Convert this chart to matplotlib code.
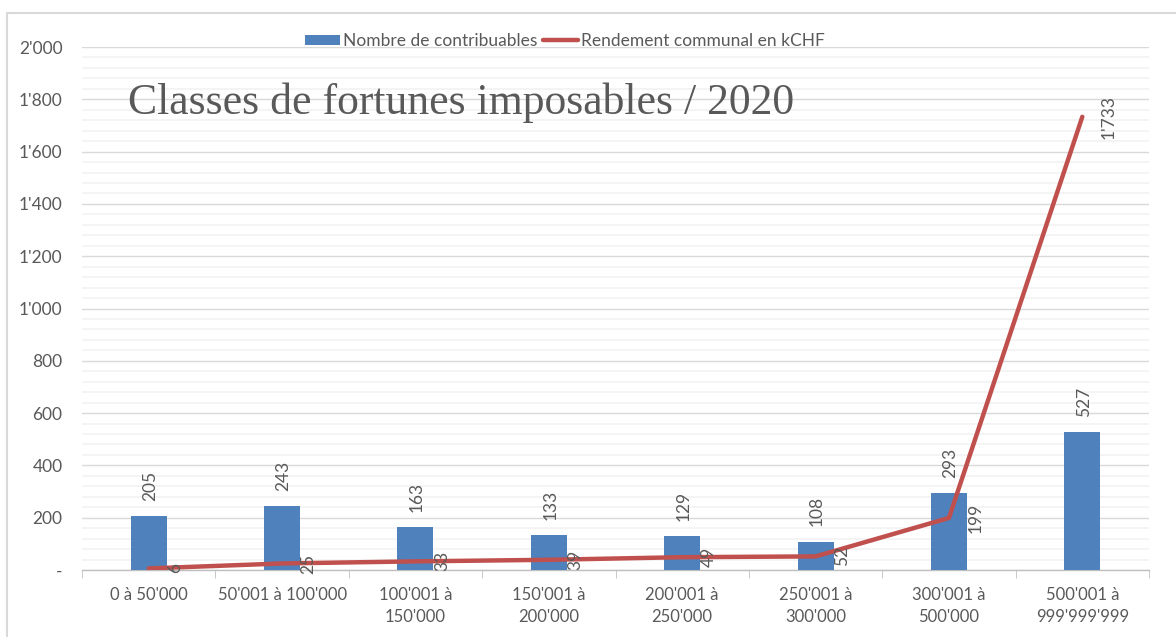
import matplotlib.pyplot as plt
from matplotlib.lines import Line2D
from matplotlib.patches import Patch
from matplotlib.ticker import MultipleLocator, FuncFormatter
import numpy as np

categories = ["0 à 50'000", "50'001 à 100'000", "100'001 à\n150'000", "150'001 à\n200'000",
              "200'001 à\n250'000", "250'001 à\n300'000", "300'001 à\n500'000", "500'001 à\n999'999'999"]
contribuables = [205, 243, 163, 133, 129, 108, 293, 527]
rendement = [6, 25, 33, 39, 49, 52, 199, 1733]
y_ticks = [0, 200, 400, 600, 800, 1000, 1200, 1400, 1600, 1800, 2000]

bar_color = '#4F81BD'
line_color = '#C0504D'
text_color = '#595959'

plt.rcParams['font.family'] = ['Lato', 'DejaVu Sans']

fig = plt.figure(figsize=(11.76, 6.37), dpi=100)
ax = fig.add_axes([82 / 1176, 1 - 570 / 637, (1149 - 82) / 1176, (570 - 47) / 637])

x = np.arange(len(categories))
ax.bar(x, contribuables, width=0.27, color=bar_color, zorder=3)
ax.plot(x, rendement, color=line_color, linewidth=3.2, solid_capstyle='round', zorder=4)


def fmt(v):
    return f"{int(v):,}".replace(',', "'")


for xi, v in zip(x, contribuables):
    ax.annotate(fmt(v), (xi, v), xytext=(1, 11), textcoords='offset points', rotation=90,
                ha='center', va='bottom', fontsize=12.5, color=text_color, zorder=5)
for xi, v in zip(x, rendement):
    ax.annotate(fmt(v), (xi, v), xytext=(19, 0), textcoords='offset points', rotation=90,
                ha='center', va='center', fontsize=12.5, color=text_color, zorder=5)

ax.set_xlim(-0.5, len(categories) - 0.5)
ax.set_ylim(0, 2000)
ax.set_yticks(y_ticks)
ax.yaxis.set_major_formatter(FuncFormatter(lambda v, p: '-' if v == 0 else fmt(v)))
ax.yaxis.set_minor_locator(MultipleLocator(40))
ax.grid(axis='y', which='major', color='#d9d9d9', linewidth=1.0, zorder=0)
ax.grid(axis='y', which='minor', color='#f2f2f2', linewidth=1.2, zorder=0)
ax.set_axisbelow(True)

ax.set_xticks(x)
ax.set_xticklabels(categories, fontsize=12, color=text_color, linespacing=1.45)
ax.set_xticks(np.arange(-0.5, len(categories)), minor=True)
ax.tick_params(axis='x', which='major', length=0, pad=12)
ax.tick_params(axis='x', which='minor', length=6, color='#bfbfbf')
ax.tick_params(axis='y', which='both', length=0, labelsize=12.5, labelcolor=text_color, pad=14)

for s in ['top', 'right', 'left']:
    ax.spines[s].set_visible(False)
ax.spines['bottom'].set_color('#bfbfbf')
ax.spines['bottom'].set_linewidth(1.0)

ax.text(0.043, 0.893, 'Classes de fortunes imposables / 2020', transform=ax.transAxes,
        family='Liberation Serif', fontsize=31.5, color=text_color, ha='left', va='center')

handles = [Patch(facecolor=bar_color, label='Nombre de contribuables'),
           Line2D([0], [0], color=line_color, linewidth=3.2, solid_capstyle='round',
                  label='Rendement communal en kCHF')]
fig.legend(handles=handles, loc='center', bbox_to_anchor=(565 / 1176, 1 - 41 / 637), ncol=2,
           frameon=False, fontsize=12.5, handlelength=2.0, handleheight=0.5, handletextpad=0.2,
           columnspacing=0.3, labelcolor=text_color)

# outer chart border (only top and left visible)
fig.add_artist(Line2D([7 / 1176, 7 / 1176, 1.0], [0.0, 1 - 13 / 637, 1 - 13 / 637],
                      transform=fig.transFigure, color='#d9d9d9', linewidth=1.5))

plt.savefig('out.png', dpi=100)
